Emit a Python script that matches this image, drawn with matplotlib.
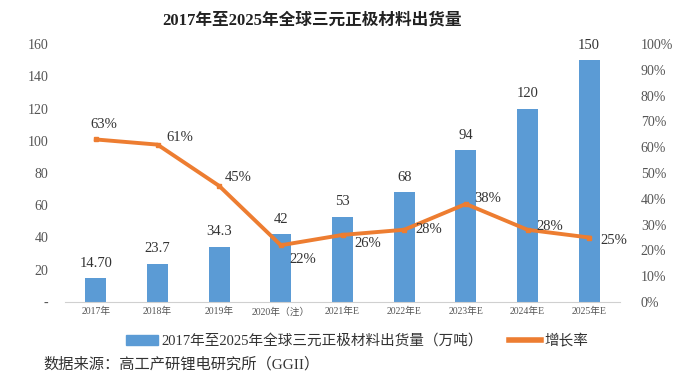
import matplotlib.pyplot as plt
from matplotlib.patches import Patch
from matplotlib.lines import Line2D

plt.rcParams['font.family'] = ['Liberation Serif', 'Noto Sans CJK SC']

years = ['2017年', '2018年', '2019年', '2020年（注）', '2021年E', '2022年E',
         '2023年E', '2024年E', '2025年E']
shipments = [14.70, 23.7, 34.3, 42, 53, 68, 94, 120, 150]
shipment_labels = ['14.70', '23.7', '34.3', '42', '53', '68', '94', '120', '150']
growth = [63, 61, 45, 22, 26, 28, 38, 28, 25]
# label offsets (points) for growth labels
growth_offsets = [(6, 11), (16, 5), (14, 6), (16, -10), (18, -6), (18, 0),
                  (16, 4), (16, 2), (18, -2)]

bar_color = '#5B9BD5'
line_color = '#ED7D31'

fig = plt.figure(figsize=(6.93, 3.75), dpi=100)
ax = fig.add_axes([65 / 693, 73 / 375, 555 / 693, 258 / 375])
x = range(len(years))
ax.bar(x, shipments, width=0.34, color=bar_color, zorder=2)
for i, (v, s) in enumerate(zip(shipments, shipment_labels)):
    ax.annotate(s, (i, v), xytext=(0, 6), textcoords='offset points',
                ha='center', va='bottom', fontsize=10.5, color='#333333')
ax.set_xlim(-0.5, len(years) - 0.5)
ax.set_ylim(0, 160)
ax.set_yticks(range(0, 161, 20))
ax.set_yticklabels(['-'] + [str(v) for v in range(20, 161, 20)])
ax.set_xticks(list(x))
ax.set_xticklabels(years, fontsize=7, color='#555555')
ax.tick_params(axis='both', length=0)
ax.tick_params(axis='y', labelsize=10, colors='#555555', pad=12)
for side in ['top', 'left', 'right']:
    ax.spines[side].set_visible(False)
ax.spines['bottom'].set_color('#d0d0d0')

ax2 = ax.twinx()
ax2.plot(x, growth, color=line_color, linewidth=2.8, marker='s', markersize=3,
         markerfacecolor=line_color, zorder=3)
for i, (g, off) in enumerate(zip(growth, growth_offsets)):
    ax2.annotate(f'{g}%', (i, g), xytext=off, textcoords='offset points',
                 ha='center', va='center', fontsize=10.5, color='#333333')
ax2.set_ylim(0, 100)
ax2.set_yticks(range(0, 101, 10))
ax2.set_yticklabels([f'{v}%' for v in range(0, 101, 10)])
ax2.tick_params(axis='y', length=0, labelsize=10, colors='#555555', pad=15)
for side in ['top', 'left', 'right', 'bottom']:
    ax2.spines[side].set_visible(False)

fig.text(312 / 693, 1 - 20 / 375, '2017年至2025年全球三元正极材料出货量',
         ha='center', va='center', fontsize=12, fontweight='bold', color='#222222')

handles = [Patch(color=bar_color),
           Line2D([0], [0], color=line_color, linewidth=4)]
fig.legend(handles, ['2017年至2025年全球三元正极材料出货量（万吨）', '增长率'],
           loc='center', bbox_to_anchor=(357 / 693, 1 - 341 / 375), ncol=2,
           frameon=False, fontsize=10.5, handlelength=2.2, handletextpad=0.2,
           columnspacing=1.8, labelcolor='#333333')

fig.text(43 / 693, 1 - 364 / 375, '数据来源：高工产研锂电研究所（GGII）',
         ha='left', va='center', fontsize=11, color='#333333')

fig.savefig('out.png', dpi=100)
